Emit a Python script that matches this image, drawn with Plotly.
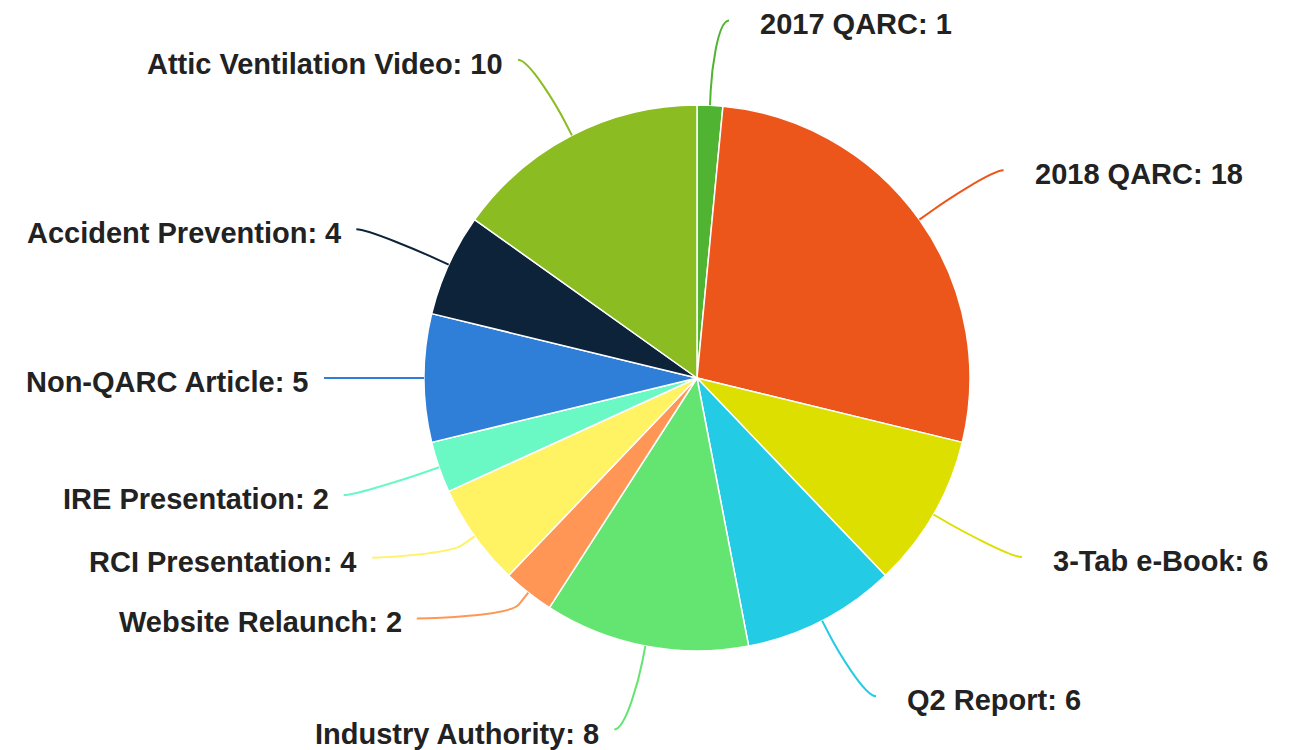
import math
import plotly.graph_objects as go

#
# pie data, in the order the slices go round (clockwise from 12 o'clock)
#
labels = ["2017 QARC", "2018 QARC", "3-Tab e-Book", "Q2 Report",
          "Industry Authority", "Website Relaunch", "RCI Presentation",
          "IRE Presentation", "Non-QARC Article", "Accident Prevention",
          "Attic Ventilation Video"]
values = [1, 18, 6, 6, 8, 2, 4, 2, 5, 4, 10]
colors = ["#50B432", "#ED561B", "#DDDF00", "#24CBE5", "#64E572", "#FF9655",
          "#FFF263", "#6AF9C4", "#2F7ED8", "#0D233A", "#8BBC21"]

#
# layout of the page (screen pixels)
#
W, H = 1299, 750
OFF = 8          # the html body has an 8px margin round the figure
cx, cy, r = 697, 378, 273
label_dist = 85
conn_off = 15
# labels that got pushed up so they do not overlap (pixels, + is down)
label_nudge = {"Website Relaunch": -41, "RCI Presentation": -28}


def px(x, y):
    # screen pixel -> paper coordinates
    return (x - OFF) / W, 1 - (y - OFF) / H


fig = go.Figure()
x0, y0 = px(cx - r, cy + r)
x1, y1 = px(cx + r, cy - r)
fig.add_trace(go.Pie(
    labels=labels, values=values, sort=False,
    direction="clockwise", rotation=0,
    marker=dict(colors=colors, line=dict(color="white", width=1.5)),
    textinfo="none", hoverinfo="label+value", showlegend=False,
    domain=dict(x=[x0, x1], y=[y0, y1]),
))

#
# data labels with connectors, placed from each slice's middle angle
#
total = sum(values)
R = r + label_dist
cum = 0
shapes = []
annotations = []
for lab, val, col in zip(labels, values, colors):
    theta = 2 * math.pi * (cum + val / 2) / total
    cum += val
    ux, uy = math.sin(theta), -math.cos(theta)
    side = 1 if ux >= 0 else -1

    ly = cy + R * uy + label_nudge.get(lab, 0)
    dy = max(-R, min(R, ly - cy))
    lx = cx + side * (math.sqrt(R * R - dy * dy) + conn_off)

    pts = [
        (lx, ly),
        (lx - side * 12, ly),
        (cx + (r + 2 * conn_off) * ux, cy + (r + 2 * conn_off) * uy),
        (cx + (r + conn_off) * ux, cy + (r + conn_off) * uy),
        (cx + r * ux, cy + r * uy),
    ]
    p = [px(*q) for q in pts]
    path = "M{:.5f},{:.5f} C{:.5f},{:.5f} {:.5f},{:.5f} {:.5f},{:.5f} L{:.5f},{:.5f}".format(
        *[c for q in p for c in q])
    shapes.append(dict(type="path", xref="paper", yref="paper", path=path,
                       line=dict(color=col, width=2), layer="above"))

    tx, ty = px(lx + side * (29 if side > 0 else 13), ly + 4)
    annotations.append(dict(
        x=tx, y=ty, xref="paper", yref="paper",
        text="{}: {}".format(lab, val), showarrow=False,
        xanchor="left" if side > 0 else "right", yanchor="middle",
        font=dict(family="Liberation Sans, Arial, sans-serif", size=29,
                  color="#222222", weight="bold"),
    ))

fig.update_layout(
    width=W, height=H,
    margin=dict(l=0, r=0, t=0, b=0),
    paper_bgcolor="white", plot_bgcolor="white",
    shapes=shapes, annotations=annotations,
)

fig.write_html("out.html")
